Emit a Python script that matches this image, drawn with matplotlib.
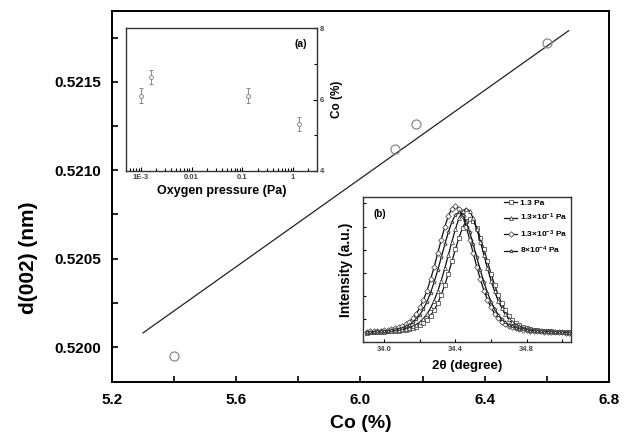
import matplotlib
matplotlib.use("Agg")
import matplotlib.pyplot as plt
from matplotlib.ticker import (MultipleLocator, LogLocator, NullFormatter, FixedLocator,
                               FixedFormatter, FormatStrFormatter)

plt.rcParams['font.family'] = ['Liberation Sans', 'DejaVu Sans']
plt.rcParams['font.weight'] = 'bold'
plt.rcParams['mathtext.fontset'] = 'custom'
plt.rcParams['mathtext.rm'] = 'Liberation Sans:bold'
plt.rcParams['mathtext.bf'] = 'Liberation Sans:bold'
plt.rcParams['mathtext.default'] = 'bf'

# main panel: lattice spacing vs Co content
co = [5.40, 6.11, 6.18, 6.60]
d002 = [0.51995, 0.52112, 0.52126, 0.52172]
fit_co = [5.30, 6.67]
fit_d = [0.52008, 0.52179]

# inset (a): Co content vs oxygen pressure
pressure = [1.0e-3, 1.55e-3, 0.13, 1.3]
co_p = [6.11, 6.63, 6.11, 5.32]
co_err = [0.2, 0.2, 0.2, 0.2]

# inset (b): (002) XRD peaks
two_theta = [33.90, 33.92, 33.94, 33.96, 33.98, 34.00, 34.02, 34.04, 34.06, 34.08,
             34.10, 34.12, 34.14, 34.16, 34.18, 34.20, 34.22, 34.24, 34.26, 34.28,
             34.30, 34.32, 34.34, 34.36, 34.38, 34.40, 34.42, 34.44, 34.46, 34.48,
             34.50, 34.52, 34.54, 34.56, 34.58, 34.60, 34.62, 34.64, 34.66, 34.68,
             34.70, 34.72, 34.74, 34.76, 34.78, 34.80, 34.82, 34.84, 34.86, 34.88,
             34.90, 34.92, 34.94, 34.96, 34.98, 35.00, 35.02, 35.04]
int_13 = [0.074, 0.075, 0.076, 0.077, 0.079, 0.080, 0.082, 0.083, 0.085, 0.088,
          0.092, 0.096, 0.101, 0.108, 0.118, 0.130, 0.148, 0.173, 0.205, 0.248,
          0.301, 0.367, 0.445, 0.533, 0.628, 0.724, 0.814, 0.891, 0.942, 0.960,
          0.942, 0.891, 0.814, 0.724, 0.628, 0.533, 0.445, 0.367, 0.301, 0.248,
          0.205, 0.173, 0.148, 0.130, 0.118, 0.108, 0.101, 0.096, 0.092, 0.088,
          0.085, 0.083, 0.082, 0.080, 0.079, 0.077, 0.076, 0.075]
int_13e1 = [0.077, 0.078, 0.079, 0.081, 0.082, 0.084, 0.085, 0.087, 0.090, 0.094,
            0.099, 0.105, 0.112, 0.123, 0.136, 0.156, 0.183, 0.218, 0.265, 0.323,
            0.394, 0.479, 0.575, 0.678, 0.783, 0.881, 0.965, 1.020, 1.040, 1.020,
            0.965, 0.881, 0.783, 0.678, 0.575, 0.479, 0.394, 0.323, 0.265, 0.218,
            0.183, 0.156, 0.136, 0.123, 0.112, 0.105, 0.099, 0.094, 0.090, 0.087,
            0.085, 0.084, 0.082, 0.081, 0.079, 0.078, 0.077, 0.076]
int_13e3 = [0.081, 0.082, 0.084, 0.086, 0.088, 0.091, 0.095, 0.100, 0.106, 0.113,
            0.124, 0.138, 0.158, 0.185, 0.221, 0.269, 0.328, 0.401, 0.488, 0.585,
            0.691, 0.798, 0.898, 0.983, 1.040, 1.060, 1.040, 0.983, 0.898, 0.798,
            0.691, 0.585, 0.488, 0.401, 0.328, 0.269, 0.221, 0.185, 0.158, 0.138,
            0.124, 0.113, 0.106, 0.100, 0.095, 0.091, 0.088, 0.086, 0.084, 0.082,
            0.081, 0.079, 0.078, 0.077, 0.076, 0.075, 0.074, 0.073]
int_8e4 = [0.078, 0.080, 0.081, 0.083, 0.085, 0.087, 0.089, 0.093, 0.098, 0.104,
           0.110, 0.121, 0.134, 0.153, 0.179, 0.213, 0.259, 0.315, 0.384, 0.467,
           0.559, 0.659, 0.761, 0.856, 0.937, 0.991, 1.010, 0.991, 0.937, 0.856,
           0.761, 0.659, 0.559, 0.467, 0.384, 0.315, 0.259, 0.213, 0.179, 0.153,
           0.134, 0.121, 0.110, 0.104, 0.098, 0.093, 0.089, 0.087, 0.085, 0.083,
           0.081, 0.080, 0.078, 0.077, 0.076, 0.075, 0.074, 0.073]
xrd_labels = ["1.3 Pa", "1.3\u00d710$^{-1}$ Pa", "1.3\u00d710$^{-3}$ Pa", "8\u00d710$^{-4}$ Pa"]
xrd_markers = ["s", "^", "D", "*"]

fig = plt.figure(figsize=(6.26, 4.37), dpi=100)

# ---- main axes
ax = fig.add_axes([0.1789, 0.1259, 0.7939, 0.8490])
ax.plot(fit_co, fit_d, color="#222222", lw=0.9)
ax.plot(co, d002, "o", ms=6.5, mfc="none", mec="#8a8a8a", mew=0.9)
ax.set_xlim(5.2, 6.8)
ax.set_ylim(0.519802, 0.521902)
ax.xaxis.set_major_locator(MultipleLocator(0.4))
ax.xaxis.set_minor_locator(MultipleLocator(0.2))
ax.yaxis.set_major_locator(MultipleLocator(0.0005))
ax.yaxis.set_minor_locator(MultipleLocator(0.00025))
ax.xaxis.set_major_formatter(FormatStrFormatter("%.1f"))
ax.yaxis.set_major_formatter(FormatStrFormatter("%.4f"))
ax.tick_params(which="both", direction="in", length=4.5, width=1.2,
               top=False, right=False, labelsize=11)
ax.tick_params(axis="x", pad=8)
ax.tick_params(axis="y", pad=8)
for s in ax.spines.values():
    s.set_linewidth(1.4)
ax.set_xlabel("Co (%)", fontsize=14, fontweight="bold", labelpad=6)
ax.set_ylabel("d(002) (nm)", fontsize=15, fontweight="bold")
ax.yaxis.set_label_coords(-0.148, 0.335)

# ---- inset (a)
axa = fig.add_axes([0.2013, 0.6087, 0.3051, 0.3272])
axa.errorbar(pressure, co_p, yerr=co_err, fmt="o", ms=2.8, mfc="white",
             mec="#777777", mew=0.6, ecolor="#777777", elinewidth=0.6,
             capsize=1.5, capthick=0.6)
axa.set_xscale("log")
axa.set_xlim(5.1e-4, 2.95)
axa.set_ylim(4, 8)
axa.yaxis.tick_right()
axa.yaxis.set_label_position("right")
axa.yaxis.set_major_locator(MultipleLocator(2))
axa.yaxis.set_minor_locator(MultipleLocator(1))
axa.xaxis.set_major_locator(FixedLocator([1e-3, 1e-2, 1e-1, 1]))
axa.xaxis.set_major_formatter(FixedFormatter(["1E-3", "0.01", "0.1", "1"]))
axa.xaxis.set_minor_locator(LogLocator(base=10, subs=range(2, 10)))
axa.xaxis.set_minor_formatter(NullFormatter())
axa.tick_params(which="both", direction="in", labelsize=5.5, pad=2, width=0.8,
                labelcolor="#444444")
axa.tick_params(which="major", length=3)
axa.tick_params(which="minor", length=2)
for s in axa.spines.values():
    s.set_linewidth(1.0)
    s.set_color("#333333")
axa.set_xlabel("Oxygen pressure (Pa)", fontsize=9, fontweight="bold", labelpad=3)
axa.set_ylabel("Co (%)", fontsize=8.5, fontweight="bold", labelpad=5)
axa.text(0.95, 0.92, "(a)", transform=axa.transAxes, ha="right", va="top",
         fontsize=7.5, fontweight="bold")

# ---- inset (b)
axb = fig.add_axes([0.5799, 0.2174, 0.3323, 0.3318])
for y, lab, m in zip([int_13, int_13e1, int_13e3, int_8e4], xrd_labels, xrd_markers):
    axb.plot(two_theta, y, "-", color="#111111", lw=0.9, marker=m, ms=2.8,
             mfc="white", mec="#333333", mew=0.5, label=lab)
axb.set_xlim(33.88, 35.05)
axb.set_ylim(0, 1.13)
axb.xaxis.set_major_locator(FixedLocator([34.0, 34.4, 34.8]))
axb.xaxis.set_major_formatter(FormatStrFormatter("%.1f"))
axb.xaxis.set_minor_locator(FixedLocator([34.2, 34.6, 35.0]))
axb.yaxis.set_major_locator(MultipleLocator(0.18))
axb.set_yticklabels([])
axb.tick_params(which="both", direction="in", labelsize=5.5, pad=3, width=0.8,
                length=2.5, labelcolor="#444444")
for s in axb.spines.values():
    s.set_linewidth(1.0)
    s.set_color("#333333")
axb.set_xlabel("2\u03b8 (degree)", fontsize=9.5, fontweight="bold", labelpad=5)
axb.set_ylabel("Intensity (a.u.)", fontsize=10, fontweight="bold", labelpad=4)
axb.text(0.05, 0.92, "(b)", transform=axb.transAxes, ha="left", va="top",
         fontsize=7, fontweight="bold")
axb.legend(loc="upper right", frameon=False, fontsize=6, handlelength=1.6,
           handletextpad=0.3, labelspacing=0.6, borderaxespad=0.3,
           bbox_to_anchor=(1.01, 1.025))

fig.savefig("out.png", dpi=100)
